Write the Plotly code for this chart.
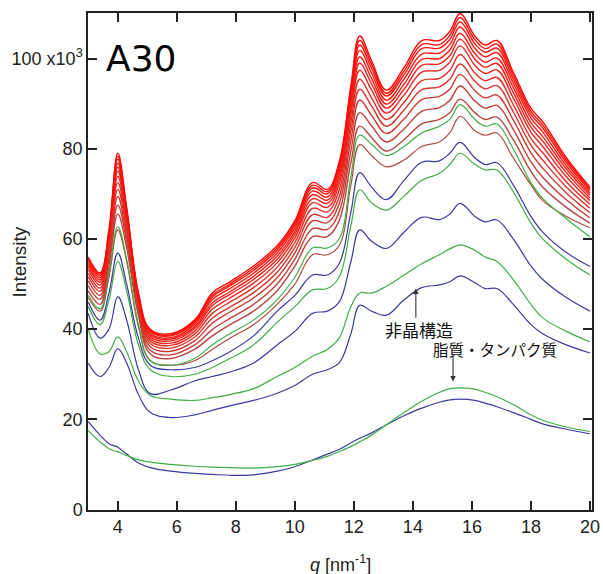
import plotly.graph_objects as go

# Scattering vector grid [nm^-1]
q = [3.0, 3.4, 3.7, 4.0, 4.3, 4.7, 5.1, 5.8, 6.6, 7.2, 7.8, 8.6, 9.4, 10.0,
     10.6, 11.1, 11.5, 11.9, 12.2, 12.6, 13.1, 13.7, 14.3, 14.9, 15.25, 15.6,
     16.1, 16.45, 16.85, 17.4, 18.0, 18.4, 19.2, 20.0]

# Intensity (x10^3) of the early profiles, alternating blue / green
blue_0 = [19.5, 16.5, 14.6, 13.8, 12.3, 10.3, 9.3, 8.5, 8.0, 7.8, 7.6, 7.7, 8.5, 9.5,
          11.0, 12.3, 13.3, 14.8, 15.8, 17.0, 18.8, 20.8, 22.5, 23.8, 24.3, 24.5,
          24.2, 23.6, 22.8, 21.5, 20.0, 19.0, 17.8, 16.8]
green_1 = [17.5, 15.0, 13.5, 12.8, 12.0, 11.0, 10.5, 10.0, 9.6, 9.4, 9.3, 9.2, 9.5, 10.0,
           10.9, 11.8, 12.8, 14.0, 15.0, 16.5, 18.8, 21.5, 24.0, 26.0, 26.8, 27.0,
           26.7, 26.0, 25.0, 23.3, 21.0, 19.8, 18.3, 17.3]
blue_1 = [32.5, 29.5, 31.5, 35.7, 32.5, 25.5, 21.5, 20.4, 21.0, 22.0, 23.0, 24.2, 25.8, 27.5,
          30.0, 31.0, 32.5, 39.0, 45.3, 44.0, 43.1, 46.5, 49.2, 49.8, 50.5, 51.8,
          50.3, 49.0, 49.0, 45.5, 41.0, 39.0, 36.5, 34.7]
green_2 = [40.0, 34.5, 35.0, 38.3, 35.0, 28.5, 25.3, 24.5, 24.2, 24.8, 25.5, 26.8, 29.5, 31.5,
           34.0, 35.5, 38.0, 45.0, 48.0, 48.0, 49.5, 52.0, 54.5, 56.5, 57.8, 58.7,
           57.5, 56.0, 55.0, 51.0, 45.5, 42.5, 39.5, 37.2]
blue_2 = [43.5, 38.0, 40.0, 47.2, 42.0, 31.0, 25.7, 26.5, 28.5, 29.5, 30.5, 32.5, 36.5, 39.5,
          43.5, 44.0, 46.0, 55.0, 62.0, 59.5, 57.9, 61.5, 64.8, 64.3, 65.5, 67.9,
          65.0, 63.8, 64.2, 60.0, 54.0, 51.0, 47.0, 44.0]
green_3 = [45.0, 41.0, 46.5, 55.0, 48.5, 36.5, 31.0, 29.5, 30.0, 31.5, 33.5, 36.5, 41.5, 45.0,
           48.7, 49.0, 51.5, 63.0, 70.9, 68.0, 66.4, 69.5, 73.0, 74.5, 76.5, 79.0,
           76.5, 75.3, 75.3, 70.5, 63.5, 60.0, 55.5, 52.0]
blue_3 = [46.0, 42.0, 48.0, 56.9, 50.0, 38.0, 32.0, 31.0, 31.5, 33.0, 35.0, 38.5, 44.0, 47.5,
          52.0, 52.0, 54.5, 66.0, 74.7, 71.5, 68.7, 73.0, 77.0, 77.3, 79.0, 81.4,
          78.0, 76.5, 76.9, 72.0, 65.0, 61.5, 57.0, 53.9]
red_0 = [47.0, 44.0, 51.5, 62.0, 55.0, 40.5, 33.0, 32.0, 33.0, 35.5, 38.0, 41.0, 45.5, 50.0,
         56.5, 56.5, 58.5, 72.0, 80.9, 78.5, 76.0, 77.5, 80.5, 81.5, 83.5, 87.2,
         84.0, 83.0, 83.5, 78.0, 72.0, 68.5, 65.0, 62.5]
green_4 = [47.5, 44.5, 52.5, 62.7, 55.5, 41.0, 33.0, 32.0, 33.5, 36.5, 39.0, 42.0, 46.5, 51.5,
           58.0, 58.0, 60.0, 74.0, 83.0, 81.0, 78.5, 80.5, 83.5, 85.0, 86.5, 89.8,
           86.5, 85.0, 85.5, 80.0, 72.5, 69.0, 64.5, 60.5]

# Later profiles (red family): one row per q value, lowest curve first
red_rows = [
    [48.5, 49.6, 50.7, 51.6, 52.4, 53.2, 53.8, 54.3, 54.8, 55.3, 55.6, 56.0],
    [45.5, 46.6, 47.5, 48.4, 49.1, 49.8, 50.4, 50.9, 51.4, 51.8, 52.2, 52.5],
    [54.0, 55.2, 56.3, 57.3, 58.2, 59.0, 59.6, 60.2, 60.7, 61.2, 61.6, 62.0],
    [65.5, 67.5, 69.4, 71.0, 72.5, 73.9, 75.0, 75.9, 76.8, 77.7, 78.3, 79.0],
    [58.0, 59.4, 60.6, 61.7, 62.7, 63.6, 64.3, 64.9, 65.6, 66.1, 66.6, 67.0],
    [43.0, 43.8, 44.5, 45.1, 45.6, 46.1, 46.5, 46.9, 47.2, 47.5, 47.8, 48.0],
    [34.5, 35.3, 36.1, 36.8, 37.4, 37.9, 38.4, 38.8, 39.1, 39.5, 39.7, 40.0],
    [33.5, 34.3, 35.1, 35.8, 36.4, 36.9, 37.4, 37.8, 38.1, 38.5, 38.7, 39.0],
    [35.5, 36.5, 37.4, 38.2, 38.9, 39.5, 40.1, 40.5, 41.0, 41.4, 41.7, 42.0],
    [38.5, 39.9, 41.3, 42.4, 43.5, 44.4, 45.2, 45.8, 46.5, 47.1, 47.5, 48.0],
    [41.0, 42.4, 43.8, 44.9, 46.0, 46.9, 47.7, 48.3, 49.0, 49.6, 50.0, 50.5],
    [44.0, 45.5, 46.9, 48.1, 49.2, 50.2, 51.0, 51.7, 52.4, 53.0, 53.5, 54.0],
    [48.5, 50.0, 51.4, 52.6, 53.7, 54.7, 55.5, 56.2, 56.9, 57.5, 58.0, 58.5],
    [54.0, 55.5, 56.9, 58.1, 59.2, 60.2, 61.0, 61.7, 62.4, 63.0, 63.5, 64.0],
    [60.5, 62.3, 64.0, 65.4, 66.8, 68.0, 68.9, 69.8, 70.6, 71.3, 71.9, 72.5],
    [60.5, 62.1, 63.6, 64.8, 66.0, 67.0, 67.9, 68.6, 69.3, 70.0, 70.5, 71.0],
    [64.0, 66.0, 67.8, 69.3, 70.8, 72.1, 73.1, 74.0, 74.9, 75.7, 76.4, 77.0],
    [77.0, 79.6, 81.9, 84.0, 85.8, 87.5, 88.9, 90.1, 91.3, 92.3, 93.2, 94.0],
    [85.0, 88.0, 90.8, 93.2, 95.4, 97.4, 99.0, 100.4, 101.8, 103.0, 104.0, 105.0],
    [82.5, 85.1, 87.4, 89.5, 91.3, 93.0, 94.4, 95.6, 96.8, 97.8, 98.7, 99.5],
    [79.5, 81.5, 83.4, 85.0, 86.5, 87.9, 89.0, 89.9, 90.8, 91.7, 92.3, 93.0],
    [82.0, 84.4, 86.6, 88.6, 90.3, 91.9, 93.2, 94.3, 95.4, 96.4, 97.2, 98.0],
    [85.5, 88.3, 90.9, 93.1, 95.1, 97.0, 98.5, 99.8, 101.0, 102.2, 103.1, 104.0],
    [86.5, 89.1, 91.6, 93.7, 95.6, 97.4, 98.8, 100.0, 101.2, 102.3, 103.1, 104.0],
    [88.0, 90.7, 93.2, 95.4, 97.4, 99.2, 100.6, 101.9, 103.1, 104.2, 105.1, 106.0],
    [91.0, 93.9, 96.5, 98.8, 100.9, 102.8, 104.3, 105.6, 107.0, 108.1, 109.1, 110.0],
    [88.0, 90.6, 92.9, 95.0, 96.8, 98.5, 99.9, 101.1, 102.3, 103.3, 104.2, 105.0],
    [86.5, 89.0, 91.3, 93.3, 95.1, 96.7, 98.1, 99.2, 100.4, 101.4, 102.2, 103.0],
    [87.0, 89.6, 91.9, 94.0, 95.8, 97.5, 98.9, 100.1, 101.3, 102.3, 103.2, 104.0],
    [82.0, 84.3, 86.4, 88.2, 89.8, 91.3, 92.5, 93.6, 94.6, 95.5, 96.3, 97.0],
    [75.0, 77.1, 79.1, 80.8, 82.3, 83.7, 84.8, 85.8, 86.8, 87.6, 88.3, 89.0],
    [71.5, 73.7, 75.7, 77.5, 79.1, 80.5, 81.7, 82.7, 83.7, 84.6, 85.3, 86.0],
    [67.0, 68.7, 70.2, 71.5, 72.7, 73.8, 74.7, 75.5, 76.2, 76.9, 77.5, 78.0],
    [63.5, 64.7, 65.8, 66.8, 67.7, 68.5, 69.1, 69.7, 70.2, 70.7, 71.1, 71.5],
]

y_ticks = [0, 20, 40, 60, 80, 100]
y_tick_labels = ["0", "20", "40", "60", "80", "100 x10<sup>3</sup>"]
x_ticks = [4, 6, 8, 10, 12, 14, 16, 18, 20]

BLUE = "#3a3aa0"
GREEN = "#3fae45"
red_colors = ["#b8463e", "#c23f36", "#cc3a30", "#d8342b", "#e22d25", "#ea2720",
              "#f0221a", "#f51d15", "#f91911", "#fc150d", "#fe100a", "#ff0805"]

fig = go.Figure()

def add_curve(values, color, width=1.2):
    fig.add_trace(go.Scatter(
        x=q, y=values, mode="lines",
        line=dict(color=color, width=width, shape="spline", smoothing=1.1),
        hoverinfo="skip", showlegend=False,
    ))

add_curve(blue_0, BLUE)
add_curve(green_1, GREEN)
add_curve(blue_1, BLUE)
add_curve(green_2, GREEN)
add_curve(blue_2, BLUE)
add_curve(green_3, GREEN)
add_curve(blue_3, BLUE)
add_curve(red_0, "#b04a3e")
add_curve(green_4, GREEN)

red_series = [list(col) for col in zip(*red_rows)]
for values, color in zip(red_series, red_colors):
    add_curve(values, color, width=1.4)

SANS = "Liberation Sans, Arial, sans-serif"
frame = dict(showline=True, linecolor="#222", linewidth=1.5, mirror="ticks",
             ticks="inside", ticklen=9, tickwidth=1.5, tickcolor="#222",
             showgrid=False, zeroline=False, automargin=False,
             tickfont=dict(family=SANS, size=18, color="#222"))

fig.update_xaxes(range=[2.99, 20.07], tickvals=x_ticks, **frame)
fig.update_yaxes(range=[-0.1, 110.1], tickvals=y_ticks, ticktext=y_tick_labels,
                 **frame)

annotations = [
    dict(x=0.5, y=-0.107, xref="paper", yref="paper",
         text="<i>q</i> [nm<sup>-1</sup>]", showarrow=False,
         font=dict(family=SANS, size=18, color="#222"),
         xanchor="center", yanchor="middle"),
    dict(x=-0.135, y=0.5, xref="paper", yref="paper", text="Intensity",
         showarrow=False, textangle=-90,
         font=dict(family=SANS, size=19, color="#222"),
         xanchor="center", yanchor="middle"),
    dict(x=4.8, y=100, xref="x", yref="y", text="A30", showarrow=False,
         font=dict(family="DejaVu Sans", size=36, color="#000"),
         xanchor="center", yanchor="middle"),
    dict(x=14.2, y=40, xref="x", yref="y", text="非晶構造", showarrow=False,
         font=dict(family="Noto Sans CJK JP", size=17, color="#111"),
         xanchor="center", yanchor="middle"),
    dict(x=16.78, y=35.6, xref="x", yref="y", text="脂質・タンパク質", showarrow=False,
         font=dict(family="Noto Sans CJK JP", size=15.5, color="#111"),
         xanchor="center", yanchor="middle"),
    dict(x=14.1, y=49, ax=14.1, ay=42.2, xref="x", yref="y", axref="x", ayref="y",
         text="", showarrow=True, arrowhead=2, arrowsize=1, arrowwidth=1.1,
         arrowcolor="#333"),
    dict(x=15.36, y=28.4, ax=15.36, ay=34.6, xref="x", yref="y", axref="x", ayref="y",
         text="", showarrow=True, arrowhead=2, arrowsize=1, arrowwidth=1.1,
         arrowcolor="#333"),
]

fig.update_layout(
    width=603, height=574,
    margin=dict(l=88, r=11, t=13, b=64),
    paper_bgcolor="white", plot_bgcolor="white",
    annotations=annotations,
)

fig.write_html("out.html")
